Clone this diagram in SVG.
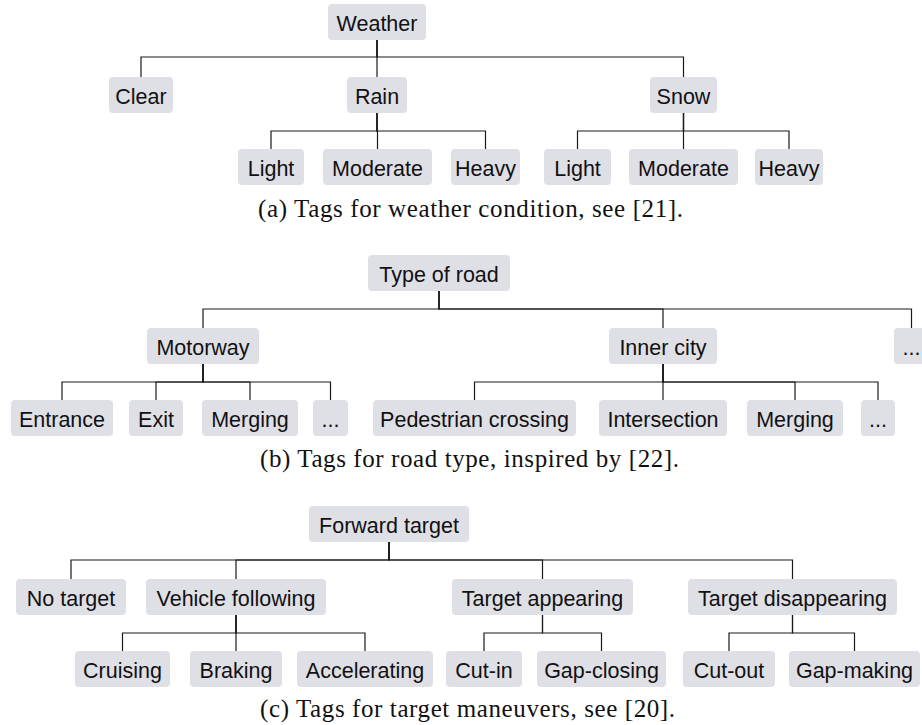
<svg xmlns="http://www.w3.org/2000/svg" width="922" height="725" viewBox="0 0 922 725">
<style>
.node rect{fill:#dfdfe6;rx:4px;ry:4px}
.node text{font-family:"Liberation Sans",Arial,sans-serif;font-size:21.5px;fill:#111;text-anchor:middle}
.edges path{fill:none;stroke:#1a1a1a;stroke-width:1.2}
.caption{font-family:"Liberation Serif","Times New Roman",serif;font-size:25px;fill:#111}
</style>
<rect width="922" height="725" fill="#fff"/>
<g class="edges" id="connectors">
<path d="M377 40V57H141V77"/>
<path d="M377 40V57H377V77"/>
<path d="M377 40V57H683.5V77"/>
<path d="M377 113V131H271V149"/>
<path d="M377 113V131H377.5V149"/>
<path d="M377 113V131H485.5V149"/>
<path d="M683.5 113V131H577.5V149"/>
<path d="M683.5 113V131H683.5V149"/>
<path d="M683.5 113V131H789V149"/>
<path d="M439 291V309H203V328"/>
<path d="M439 291V309H663V328"/>
<path d="M439 291V309H911.5V328"/>
<path d="M203 364V382H62V400"/>
<path d="M203 364V382H156V400"/>
<path d="M203 364V382H250V400"/>
<path d="M203 364V382H330.5V400"/>
<path d="M663 364V382H474.5V400"/>
<path d="M663 364V382H663V400"/>
<path d="M663 364V382H795V400"/>
<path d="M663 364V382H878V400"/>
<path d="M389 542V560H71V579"/>
<path d="M389 542V560H236V579"/>
<path d="M389 542V560H542.5V579"/>
<path d="M389 542V560H792.5V579"/>
<path d="M236 615V633H122.5V651"/>
<path d="M236 615V633H236V651"/>
<path d="M236 615V633H365V651"/>
<path d="M542.5 615V633H484V651"/>
<path d="M542.5 615V633H601.5V651"/>
<path d="M792.5 615V633H729V651"/>
<path d="M792.5 615V633H854.5V651"/>
</g>
<g class="node" id="weather"><rect x="328" y="4" width="98" height="36"/><text x="377" y="30.5">Weather</text></g>
<g class="node" id="clear"><rect x="109" y="77" width="64" height="36"/><text x="141" y="103.5">Clear</text></g>
<g class="node" id="rain"><rect x="347" y="77" width="60" height="36"/><text x="377" y="103.5">Rain</text></g>
<g class="node" id="snow"><rect x="650" y="77" width="67" height="36"/><text x="683.5" y="103.5">Snow</text></g>
<g class="node" id="rain-light"><rect x="238" y="149" width="66" height="36"/><text x="271" y="175.5">Light</text></g>
<g class="node" id="rain-moderate"><rect x="323" y="149" width="109" height="36"/><text x="377.5" y="175.5">Moderate</text></g>
<g class="node" id="rain-heavy"><rect x="451" y="149" width="69" height="36"/><text x="485.5" y="175.5">Heavy</text></g>
<g class="node" id="snow-light"><rect x="544" y="149" width="67" height="36"/><text x="577.5" y="175.5">Light</text></g>
<g class="node" id="snow-moderate"><rect x="629" y="149" width="109" height="36"/><text x="683.5" y="175.5">Moderate</text></g>
<g class="node" id="snow-heavy"><rect x="755" y="149" width="68" height="36"/><text x="789" y="175.5">Heavy</text></g>

<g class="node" id="type-of-road"><rect x="368" y="255" width="142" height="36"/><text x="439" y="281.5">Type of road</text></g>
<g class="node" id="motorway"><rect x="147" y="328" width="112" height="36"/><text x="203" y="354.5">Motorway</text></g>
<g class="node" id="inner-city"><rect x="609" y="328" width="108" height="36"/><text x="663" y="354.5">Inner city</text></g>
<g class="node" id="road-more"><rect x="894" y="328" width="35" height="36"/><text x="911.5" y="354.5">...</text></g>
<g class="node" id="entrance"><rect x="11" y="400" width="102" height="36"/><text x="62" y="426.5">Entrance</text></g>
<g class="node" id="exit"><rect x="129" y="400" width="54" height="36"/><text x="156" y="426.5">Exit</text></g>
<g class="node" id="motorway-merging"><rect x="202" y="400" width="96" height="36"/><text x="250" y="426.5">Merging</text></g>
<g class="node" id="motorway-more"><rect x="313" y="400" width="35" height="36"/><text x="330.5" y="426.5">...</text></g>
<g class="node" id="pedestrian-crossing"><rect x="373" y="400" width="203" height="36"/><text x="474.5" y="426.5">Pedestrian crossing</text></g>
<g class="node" id="intersection"><rect x="599" y="400" width="128" height="36"/><text x="663" y="426.5">Intersection</text></g>
<g class="node" id="city-merging"><rect x="747" y="400" width="96" height="36"/><text x="795" y="426.5">Merging</text></g>
<g class="node" id="city-more"><rect x="861" y="400" width="34" height="36"/><text x="878" y="426.5">...</text></g>

<g class="node" id="forward-target"><rect x="309" y="506" width="160" height="36"/><text x="389" y="532.5">Forward target</text></g>
<g class="node" id="no-target"><rect x="16" y="579" width="110" height="36"/><text x="71" y="605.5">No target</text></g>
<g class="node" id="vehicle-following"><rect x="146" y="579" width="180" height="36"/><text x="236" y="605.5">Vehicle following</text></g>
<g class="node" id="target-appearing"><rect x="452" y="579" width="181" height="36"/><text x="542.5" y="605.5">Target appearing</text></g>
<g class="node" id="target-disappearing"><rect x="688" y="579" width="209" height="36"/><text x="792.5" y="605.5">Target disappearing</text></g>
<g class="node" id="cruising"><rect x="75" y="651" width="95" height="36"/><text x="122.5" y="677.5">Cruising</text></g>
<g class="node" id="braking"><rect x="190" y="651" width="92" height="36"/><text x="236" y="677.5">Braking</text></g>
<g class="node" id="accelerating"><rect x="297" y="651" width="136" height="36"/><text x="365" y="677.5">Accelerating</text></g>
<g class="node" id="cut-in"><rect x="446" y="651" width="76" height="36"/><text x="484" y="677.5">Cut-in</text></g>
<g class="node" id="gap-closing"><rect x="537" y="651" width="129" height="36"/><text x="601.5" y="677.5">Gap-closing</text></g>
<g class="node" id="cut-out"><rect x="683" y="651" width="92" height="36"/><text x="729" y="677.5">Cut-out</text></g>
<g class="node" id="gap-making"><rect x="789" y="651" width="131" height="36"/><text x="854.5" y="677.5">Gap-making</text></g>

<g id="captions">
<text class="caption" x="258" y="217" textLength="425" lengthAdjust="spacing">(a) Tags for weather condition, see [21].</text>
<text class="caption" x="260" y="467" textLength="419" lengthAdjust="spacing">(b) Tags for road type, inspired by [22].</text>
<text class="caption" x="260" y="717" textLength="415" lengthAdjust="spacing">(c) Tags for target maneuvers, see [20].</text>
</g>
</svg>
